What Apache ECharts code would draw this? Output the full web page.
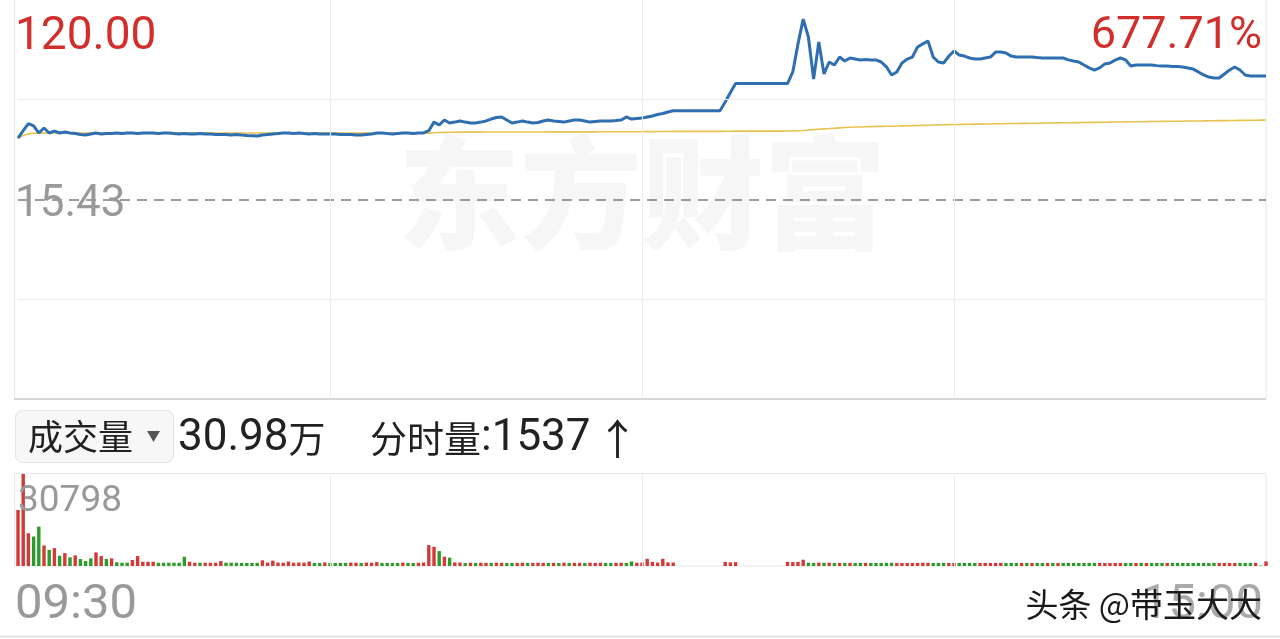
<!DOCTYPE html>
<html><head><meta charset="utf-8">
<script src="https://cdn.jsdelivr.net/npm/echarts@6/dist/echarts.min.js"></script>
<style>html,body{margin:0;padding:0;background:#fff;}#c{width:1280px;height:639px;}</style>
</head><body><div id="c"></div>
<script>
// ---- data ----
var prevClose = 15.43;
var axisTop = 120.00;
var topPct = '677.71%';
var totalVolNum = '30.98';
var totalVolUnit = '万';
var lastVolLabel = '分时量';
var lastVolNum = '1537';
var volMaxLabel = '30798';
var volMax = 30798;
var timeLabels = ['09:30', '15:00'];
var halt = null;

var price = [
47.66,51.5,55.2,54.0,50.3,52.9,50.3,51.3,50.3,50.8,50.3,50.0,49.5,49.2,49.8,50.3,49.8,50.0,
50.0,50.3,50.0,50.3,50.3,50.0,50.3,50.3,50.3,50.0,50.3,50.3,50.0,49.8,50.0,49.8,49.8,50.0,49.8,49.8,49.5,49.5,
49.5,49.2,49.5,49.2,49.0,48.9,48.7,49.2,49.5,49.8,50.0,50.3,50.3,50.0,50.3,50.0,49.8,50.0,49.8,49.8,
49.8,49.8,49.5,49.5,49.5,49.2,49.2,49.5,49.8,50.3,50.3,50.0,49.8,50.0,50.3,50.3,50.0,50.3,50.3,51.5,
56.0,54.5,57.1,55.5,56.0,56.6,56.0,55.5,55.5,56.0,56.6,57.6,58.4,58.7,57.1,55.5,56.0,56.6,56.0,55.5,
55.8,56.6,57.1,56.6,56.3,56.0,56.6,57.1,57.1,56.6,56.0,56.3,56.6,56.6,56.6,56.8,57.1,58.7,57.6,57.9,
58.1,58.7,59.2,60.0,60.5,61.3,
61.96,61.96,61.96,61.96,61.96,61.96,61.96,61.96,61.96,61.96,
66.5,71.5,
76.26,76.26,76.26,76.26,76.26,76.26,76.26,76.26,76.26,76.26,76.26,
82.3,97.0,110.0,100.6,78.6,98.0,81.2,87.5,85.9,90.1,88.0,89.6,89.1,88.6,88.8,88.6,88.6,87.5,85.0,80.7,
82.3,87.0,89.0,90.1,95.4,97.0,98.5,90.1,87.5,87.0,90.5,93.3,91.2,90.6,89.6,89.1,89.1,89.6,90.1,92.7,
92.7,92.2,90.6,90.1,90.1,90.1,90.1,89.8,89.6,89.6,89.6,89.6,89.6,88.6,88.0,87.5,85.9,84.4,83.3,84.4,
86.5,87.0,88.5,89.6,88.6,85.4,85.9,85.9,85.9,85.9,85.6,85.4,85.4,85.1,85.1,84.9,84.4,83.8,82.3,80.7,
79.6,79.1,79.1,81.2,83.3,84.9,83.3,80.7,80.2,80.2,80.2,80.2
];

var avgPrice = [
47.66,49.00,49.85,50.15,50.20,50.22,50.24,50.25,50.26,50.26,50.27,
50.27,50.27,50.27,50.27,50.27,50.27,50.27,50.27,50.27,50.27,
50.28,50.28,50.28,50.28,50.28,50.28,50.28,50.28,50.28,50.28,
50.28,50.28,50.28,50.28,50.28,50.27,50.27,50.27,50.27,50.27,
50.26,50.26,50.26,50.25,50.25,50.25,50.25,50.25,50.25,50.25,
50.25,50.25,50.25,50.25,50.25,50.25,50.25,50.25,50.25,50.25,
50.25,50.25,50.24,50.24,50.24,50.24,50.24,50.24,50.24,50.24,
50.24,50.24,50.24,50.24,50.24,50.24,50.24,50.24,50.24,
50.40,50.52,50.60,50.66,50.70,50.72,50.74,50.75,50.76,50.77,50.78,
50.79,50.80,50.81,50.82,50.82,50.83,50.83,50.84,50.84,50.85,
50.85,50.86,50.86,50.87,50.87,50.88,50.88,50.89,50.89,50.90,
50.90,50.91,50.91,50.92,50.92,50.93,50.94,50.95,50.96,50.98,
51.00,51.02,51.04,51.07,51.09,51.12,
51.12,51.12,51.12,51.12,51.12,51.12,51.12,51.12,51.12,
51.17,51.22,51.28,
51.28,51.28,51.28,51.28,51.28,51.28,51.28,51.28,51.28,
51.34,51.40,51.50,51.62,
51.85,52.05,52.25,52.45,52.62,52.80,52.98,53.15,53.32,
53.40,53.47,53.54,53.61,53.68,53.74,53.80,53.86,53.93,54.00,54.07,54.14,54.22,54.30,54.38,54.45,54.52,54.59,54.66,54.73,
54.78,54.83,54.87,54.92,54.96,55.01,55.05,55.10,55.14,55.18,55.23,55.27,55.31,55.35,55.39,55.43,55.47,55.51,55.55,55.59,55.63,55.67,55.71,55.75,55.79,55.83,55.87,
55.91,55.95,55.99,56.03,56.07,56.11,56.15,56.18,56.22,56.26,56.29,56.33,56.36,56.40,56.43,56.47,56.50,56.54,56.57,56.61,56.64,56.68,56.71,56.75,56.78,56.82,56.85,56.89,56.92,56.96,56.99,57.03,57.07
];

var volume = [
18750,30798,10960,9870,13190,6880,5400,5980,3420,4320,2890,3560,2330,1660,2560,4550,3320,2330,2560,1230,
1100,1100,2000,3320,1430,1430,1430,1100,1100,1100,1100,1100,3090,1430,1100,1100,1100,1100,1100,1660,
1100,1100,1100,
1000,1000,1000,1050,1900,1150,1800,1150,1100,1500,1100,1150,1100,1500,1000,1000,
1200,1000,1000,1000,1050,1150,1100,1000,1150,1100,1300,1000,1000,1000,1000,1150,1000,1000,1100,1150,
7000,6450,5000,3120,2790,1200,1150,1000,
1100,1000,1100,1050,1000,1100,1050,1000,1000,1050,1100,1000,1050,1100,1050,1000,1050,1000,1100,1000,
1050,1050,1000,1100,1050,1100,1000,1000,1050,1100,1000,
1500,1100,1150,2400,1400,1150,2400,1200,1150,
halt,halt,halt,halt,halt,halt,halt,halt,halt,
1400,1200,1300,
halt,halt,halt,halt,halt,halt,halt,halt,halt,
1400,1300,1400,2100,
1100,1050,1150,1050,1100,1000,1050,1000,1050,1000,
1000,1050,1000,1000,1000,1050,1100,1050,1000,1000,
1000,1050,1100,1050,1000,1000,1050,1000,1050,1000,
1000,1000,1000,1000,1050,1000,1000,1050,1000,1000,
1000,1000,1000,1000,1000,1000,1000,1000,1000,1000,
1000,1000,1000,1000,1050,1050,1000,1000,1000,1000,
1000,1000,1000,1000,1000,1000,1000,1000,1000,1000,
1000,1000,1000,1000,1000,1000,1000,1000,1050,1000,
1000,1000,1000,1000,1000,1000,1050,150,1537
];

// r = up (red), g = down (green), - = halted
var volDir =
  'rrrggrgrgrgrgggrrgrgggrrrrrggggggrrgrrrrggg' +
  'ggggrrrrrrrrrrgg' +
  'rggggrrgrrrggggrggrrrrgrgrrg' +
  'rgrrgrrggrrgrrrgrgrgrrgrrrggrrg' +
  'grrrrrrrr' +
  '---------' + 'rrr' + '---------' + 'rrrr' +
  'ggrgrgrgrg' + 'grgggggrrr' + 'rrrrgggrrg' + 'gggrrrrrgg' + 'grgrggrgrg' +
  'ggggggrrrr' + 'rggrgrgggr' + 'gggggggggr' + 'rrrgggrgr';

// ---- chart ----
var RED = '#d23a37', GREEN = '#2b9b2b';
var chart = echarts.init(document.getElementById('c'), null, {renderer: 'canvas'});

var pricePts = price.map(function (v, i) { return [i, v]; });
var avgPts = avgPrice.map(function (v, i) { return [i, v]; });
var volPts = [];
volume.forEach(function (v, i) {
  if (v == null) return;
  volPts.push({value: [i, v], itemStyle: {color: volDir.charAt(i) === 'g' ? GREEN : RED}});
});

var span = axisTop - prevClose;
var yMin = prevClose - span;

var numFont = 'Roboto, "Noto Sans", sans-serif';
var cjkFont = '"Noto Sans CJK SC", "Noto Sans", sans-serif';

function vline(color) {
  return {
    silent: true, symbol: 'none', label: {show: false},
    lineStyle: {color: color, width: 1, type: 'solid'},
    data: [{xAxis: 60}, {xAxis: 120}, {xAxis: 180}]
  };
}

var infoRich = {
  c: {font: '37px ' + cjkFont, fill: '#222222'},
  n: {font: '44px ' + numFont, fill: '#222222'},
  a: {font: '42px ' + cjkFont, fill: '#222222', padding: [0, 0, 0, 6]}
};

var option = {
  animation: false,
  backgroundColor: '#ffffff',
  grid: [
    {left: 18, right: 14, top: 0, height: 399},
    {left: 18, right: 14, top: 474, height: 92}
  ],
  xAxis: [
    {type: 'value', gridIndex: 0, min: 0, max: 240, interval: 60,
     axisLine: {show: false}, axisTick: {show: false}, axisLabel: {show: false}, splitLine: {show: false}},
    {type: 'value', gridIndex: 1, min: 0, max: 240, interval: 60,
     axisLine: {show: false}, axisTick: {show: false}, axisLabel: {show: false}, splitLine: {show: false}}
  ],
  yAxis: [
    {type: 'value', gridIndex: 0, min: yMin, max: axisTop, show: false, splitLine: {show: false}},
    {type: 'value', gridIndex: 1, min: 0, max: volMax, show: false, splitLine: {show: false}}
  ],
  graphic: [
    {type: 'text', z: 0, silent: true, x: 642, y: 193,
     style: {text: '东方财富', font: '900 122px ' + cjkFont, fill: '#f6f6f6', align: 'center', verticalAlign: 'middle'}},
    {type: 'rect', z: 1, silent: true, shape: {x: 14.5, y: -1, width: 1251.5, height: 400},
     style: {fill: 'none', stroke: '#e6e6e6', lineWidth: 1}},
    {type: 'line', z: 1, silent: true, shape: {x1: 14, y1: 399, x2: 1266, y2: 399},
     style: {stroke: '#d6d6d6', lineWidth: 2}},
    {type: 'rect', z: 1, silent: true, shape: {x: 14.5, y: 473.5, width: 1251.5, height: 92.5},
     style: {fill: 'none', stroke: '#e8e8e8', lineWidth: 1}},
    {type: 'line', z: 1, silent: true, shape: {x1: 0, y1: 636.5, x2: 1280, y2: 636.5},
     style: {stroke: '#e2e2e2', lineWidth: 2}},
    {type: 'text', z: 10, x: 15, y: 37,
     style: {text: axisTop.toFixed(2), font: '46px ' + numFont, fill: '#d12f2c', align: 'left', verticalAlign: 'middle'}},
    {type: 'text', z: 10, x: 1262, y: 37,
     style: {text: topPct, font: '45px ' + numFont, fill: '#d12f2c', align: 'right', verticalAlign: 'middle'}},
    {type: 'text', z: 10, x: 15, y: 205,
     style: {text: prevClose.toFixed(2), font: '44px ' + numFont, fill: '#999999', align: 'left', verticalAlign: 'middle'}},
    {type: 'rect', z: 10, shape: {x: 15.5, y: 410.5, width: 158, height: 52, r: 7},
     style: {fill: '#f7f7f7', stroke: '#e4e4e4', lineWidth: 1}},
    {type: 'text', z: 11, x: 28, y: 437,
     style: {text: '成交量', font: '35px ' + cjkFont, fill: '#222222', align: 'left', verticalAlign: 'middle'}},
    {type: 'polygon', z: 11, shape: {points: [[147, 431], [160, 431], [153.5, 442]]},
     style: {fill: '#555555'}},
    {type: 'text', z: 10, x: 178, y: 439,
     style: {text: '{n|' + totalVolNum + '}{c|' + totalVolUnit + '}', rich: infoRich, align: 'left', verticalAlign: 'middle'}},
    {type: 'text', z: 10, x: 370, y: 439,
     style: {text: '{c|' + lastVolLabel + '}{n|:' + lastVolNum + '}{a|↑}', rich: infoRich, align: 'left', verticalAlign: 'middle'}},
    {type: 'text', z: 10, x: 18, y: 502,
     style: {text: volMaxLabel, font: '37px ' + numFont, fill: '#999999', align: 'left', verticalAlign: 'middle'}},
    {type: 'text', z: 10, x: 15, y: 606,
     style: {text: timeLabels[0], font: '49px ' + numFont, fill: '#999999', align: 'left', verticalAlign: 'middle'}},
    {type: 'text', z: 10, x: 1263, y: 606,
     style: {text: timeLabels[1], font: '49px ' + numFont, fill: '#aaaaaa', align: 'right', verticalAlign: 'middle'}},
    {type: 'text', z: 12, x: 1262, y: 604,
     style: {text: '头条 @带玉大大', font: '33px ' + cjkFont, fill: '#1a1a1a', align: 'right', verticalAlign: 'middle',
             textShadowColor: '#ffffff', textShadowOffsetX: 2, textShadowOffsetY: 2, textShadowBlur: 0}}
  ],
  series: [
    {
      type: 'line', name: 'avg', xAxisIndex: 0, yAxisIndex: 0, data: avgPts,
      showSymbol: false, symbol: 'none', z: 3,
      lineStyle: {color: '#e8c24f', width: 1.6},
      markLine: {
        silent: true, symbol: 'none', label: {show: false},
        data: [
          {yAxis: prevClose + span / 2, lineStyle: {color: '#ececec', width: 1, type: 'solid'}},
          {yAxis: prevClose - span / 2, lineStyle: {color: '#ececec', width: 1, type: 'solid'}},
          {yAxis: prevClose, lineStyle: {color: '#7c7c7c', width: 1.5, type: [10, 7]}}
        ]
      }
    },
    {
      type: 'line', name: 'price', xAxisIndex: 0, yAxisIndex: 0, data: pricePts,
      showSymbol: false, symbol: 'none', z: 4,
      lineStyle: {color: '#2f6eb0', width: 3},
      markLine: vline('#ededed')
    },
    {
      type: 'bar', name: 'vol', xAxisIndex: 1, yAxisIndex: 1, data: volPts,
      barWidth: 3.4, z: 3, clip: false,
      markLine: vline('#ededed')
    }
  ]
};
chart.setOption(option);
</script></body></html>
